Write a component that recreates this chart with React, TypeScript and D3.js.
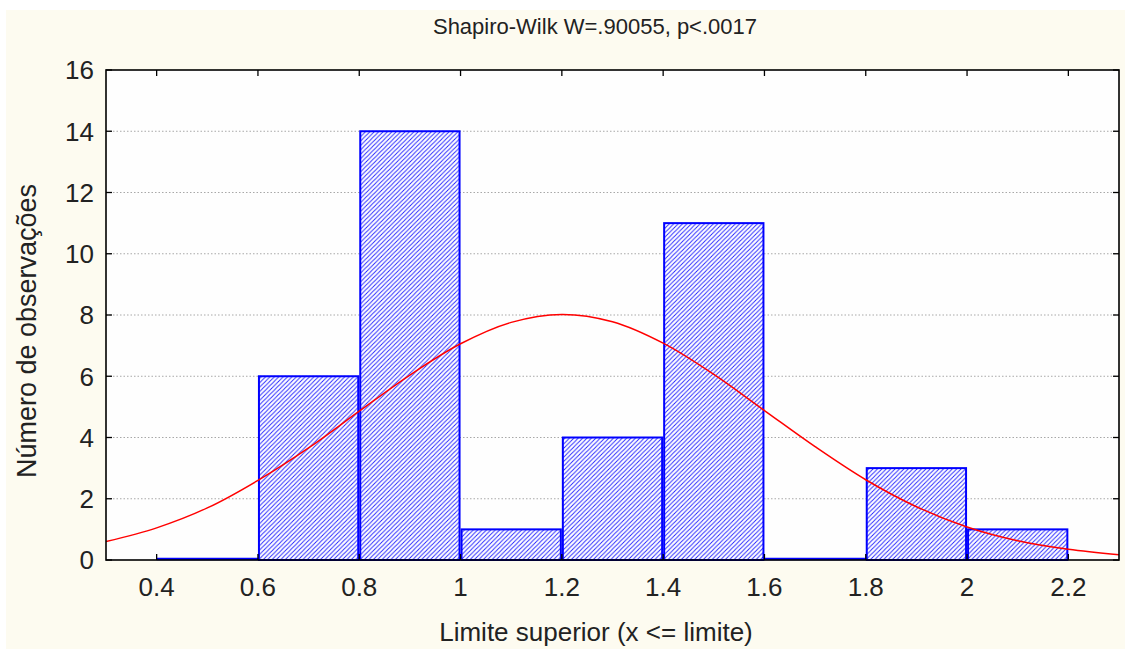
import React from "react";
import * as d3 from "d3";

// Histogram bins (upper limits) and observation counts
const binStarts = [0.4, 0.6, 0.8, 1.0, 1.2, 1.4, 1.6, 1.8, 2.0];
const binEnds = [0.6, 0.8, 1.0, 1.2, 1.4, 1.6, 1.8, 2.0, 2.2];
const counts = [0, 6, 14, 1, 4, 11, 0, 3, 1];

// Expected normal curve, sampled along x
const curveX = [0.3, 0.4, 0.5, 0.6, 0.7, 0.8, 0.9, 1.0, 1.1, 1.2, 1.3, 1.4, 1.5, 1.6, 1.7, 1.8, 1.9, 2.0, 2.1, 2.2, 2.3];
const curveY = [0.6, 1.05, 1.7, 2.6, 3.66, 4.86, 6.04, 7.06, 7.76, 8.02, 7.78, 7.08, 6.06, 4.88, 3.7, 2.62, 1.74, 1.08, 0.63, 0.35, 0.17];

const xTicks = [0.4, 0.6, 0.8, 1.0, 1.2, 1.4, 1.6, 1.8, 2.0, 2.2];
const yTicks = [0, 2, 4, 6, 8, 10, 12, 14, 16];

const titleText = "Shapiro-Wilk W=.90055, p<.0017";
const xLabel = "Limite superior (x <= limite)";
const yLabel = "Número de observações";

const W = 1125;
const H = 649;
const plot = { left: 106, right: 1119, top: 70, bottom: 560 };
const font = "Arial, 'Liberation Sans', sans-serif";
const hatchStep = 4.4;

export default function App() {
  const x = d3.scaleLinear().domain([0.3, 2.3]).range([plot.left, plot.right]);
  const y = d3.scaleLinear().domain([0, 16]).range([plot.bottom, plot.top]);

  const line = d3
    .line<number>()
    .x((_, i) => x(curveX[i]))
    .y((d) => y(d))
    .curve(d3.curveCatmullRom);

  const tickLen = 6;
  const s = hatchStep;

  return (
    <svg
      width={W}
      height={H}
      style={{ position: "absolute", left: 0, top: 0, display: "block" }}
    >
      <defs>
        <pattern id="hatch" patternUnits="userSpaceOnUse" width={s} height={s}>
          <rect width={s} height={s} fill="#ffffff" />
          <path
            d={`M-1,1 l2,-2 M0,${s} l${s},-${s} M${s - 1},${s + 1} l2,-2`}
            stroke="#2020ff"
            strokeWidth="0.9"
          />
        </pattern>
        <clipPath id="plotClip">
          <rect
            x={plot.left}
            y={plot.top}
            width={plot.right - plot.left}
            height={plot.bottom - plot.top}
          />
        </clipPath>
      </defs>

      <rect x={0} y={0} width={W} height={H} fill="#ffffff" />
      <rect x={6} y={10} width={W - 6} height={H - 10} fill="#fdfbf0" />
      <rect
        x={plot.left}
        y={plot.top}
        width={plot.right - plot.left}
        height={plot.bottom - plot.top}
        fill="#fefefe"
      />

      {/* horizontal grid */}
      {yTicks
        .filter((t) => t > 0 && t < 16)
        .map((t) => (
          <line
            key={"g" + t}
            x1={plot.left}
            x2={plot.right}
            y1={y(t)}
            y2={y(t)}
            stroke="#a8a8a8"
            strokeWidth={1}
            strokeDasharray="1.5,2"
          />
        ))}

      {/* bars; empty bins show as a baseline segment */}
      {counts.map((c, i) => {
        const x0 = x(binStarts[i]) + 1;
        const x1 = x(binEnds[i]) - 1;
        if (c === 0) {
          return (
            <line
              key={"b" + i}
              x1={x0 - 1}
              x2={x1 + 1}
              y1={y(0) - 1}
              y2={y(0) - 1}
              stroke="#0000ff"
              strokeWidth={2.5}
            />
          );
        }
        return (
          <rect
            key={"b" + i}
            x={x0}
            y={y(c)}
            width={x1 - x0}
            height={y(0) - y(c)}
            fill="url(#hatch)"
            stroke="#0000ff"
            strokeWidth={2}
          />
        );
      })}

      {/* fitted normal curve */}
      <path
        d={line(curveY) || ""}
        fill="none"
        stroke="#ff0000"
        strokeWidth={1.5}
        clipPath="url(#plotClip)"
      />

      {/* frame */}
      <rect
        x={plot.left}
        y={plot.top}
        width={plot.right - plot.left}
        height={plot.bottom - plot.top}
        fill="none"
        stroke="#000000"
        strokeWidth={1.6}
      />

      {/* x ticks (bottom and top, inward) */}
      {xTicks.map((t) => (
        <g key={"xt" + t}>
          <line x1={x(t)} x2={x(t)} y1={plot.bottom} y2={plot.bottom - tickLen} stroke="#000" strokeWidth={1.3} />
          <line x1={x(t)} x2={x(t)} y1={plot.top} y2={plot.top + tickLen} stroke="#000" strokeWidth={1.3} />
          <text
            x={x(t)}
            y={596}
            textAnchor="middle"
            fontFamily={font}
            fontSize={26}
            fill="#222"
          >
            {d3.format("~g")(t)}
          </text>
        </g>
      ))}

      {/* y ticks (left and right, inward) */}
      {yTicks.map((t) => (
        <g key={"yt" + t}>
          <line x1={plot.left} x2={plot.left + tickLen} y1={y(t)} y2={y(t)} stroke="#000" strokeWidth={1.3} />
          <line x1={plot.right} x2={plot.right - tickLen} y1={y(t)} y2={y(t)} stroke="#000" strokeWidth={1.3} />
          <text
            x={94}
            y={y(t)}
            dy="0.36em"
            textAnchor="end"
            fontFamily={font}
            fontSize={26}
            fill="#222"
          >
            {t}
          </text>
        </g>
      ))}

      <text
        x={595}
        y={34}
        textAnchor="middle"
        fontFamily={font}
        fontSize={22}
        fill="#222"
      >
        {titleText}
      </text>

      <text
        x={596}
        y={641}
        textAnchor="middle"
        fontFamily={font}
        fontSize={26}
        fill="#222"
      >
        {xLabel}
      </text>

      <text
        transform={`translate(36, 331) rotate(-90)`}
        textAnchor="middle"
        fontFamily={font}
        fontSize={27}
        fill="#222"
      >
        {yLabel}
      </text>
    </svg>
  );
}
